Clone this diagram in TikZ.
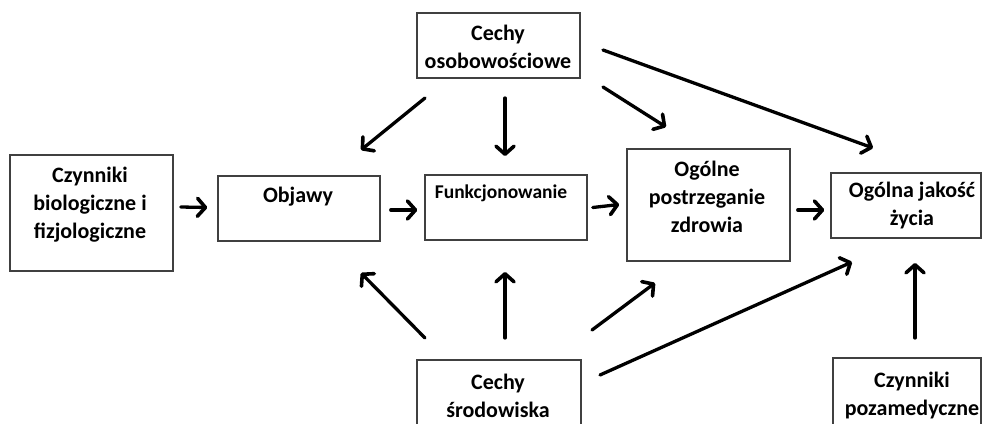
\documentclass[tikz,border=0pt]{standalone}
\usepackage{fontspec}
\setmainfont{Carlito}
\usetikzlibrary{positioning,arrows.meta}

\begin{document}
\begin{tikzpicture}[x=1pt,y=-1pt,
    boxnode/.style={rectangle, draw=black!75, line width=1.5pt, inner sep=0pt},
    txtnode/.style={inner sep=0pt, align=center, font=\fontsize{22}{28}\selectfont\bfseries},
    smalltxt/.style={inner sep=0pt, align=center, font=\fontsize{19.5}{24}\selectfont\bfseries},
    arr/.style={line width=3.3pt, line cap=round, -{Straight Barb[length=8pt,width=18pt,line width=3.6pt,round]}}]

        \clip (0,0) rectangle (984,423);

        % boxes
        \node[boxnode, minimum width=163pt, minimum height=65pt] (oso) at (498.5,45.5) {};
        \node[boxnode, minimum width=163pt, minimum height=116pt] (bio) at (91.5,213) {};
        \node[boxnode, minimum width=162pt, minimum height=65pt] (obj) at (299,208.5) {};
        \node[boxnode, minimum width=162pt, minimum height=65pt] (fun) at (506,207.5) {};
        \node[boxnode, minimum width=163pt, minimum height=112pt] (ogp) at (708.5,205) {};
        \node[boxnode, minimum width=150pt, minimum height=65pt] (jak) at (906,205.5) {};
        \node[boxnode, minimum width=164pt, minimum height=90pt] (sro) at (499,405) {};
        \node[boxnode, minimum width=148pt, minimum height=90pt] (poz) at (907,403) {};

        % texts
        \node[txtnode] (oso-t) at (498,47) {Cechy\\osobowościowe};
        \node[txtnode] (bio-t) at (90,205) {Czynniki\\biologiczne i\\fizjologiczne};
        \node[txtnode] (obj-t) at (298,197) {Objawy};
        \node[smalltxt] (fun-t) at (501,193) {Funkcjonowanie};
        \node[txtnode] (ogp-t) at (707,197) {Ogólne\\postrzeganie\\zdrowia};
        \node[txtnode] (jak-t) at (912,206) {Ogólna jakość\\życia};
        \node[txtnode] (sro-t) at (498,396) {Cechy\\środowiska};
        \node[txtnode] (poz-t) at (912,396) {Czynniki\\pozamedyczne};

        % free arrow ends
        \coordinate (oso-a) at (425,98);   \coordinate (obj-a) at (361,150);
        \coordinate (oso-b) at (505,98);   \coordinate (fun-a) at (505,156);
        \coordinate (oso-c) at (603,87);   \coordinate (ogp-a) at (666,127);
        \coordinate (oso-d) at (603,50);   \coordinate (jak-a) at (873,148);
        \coordinate (sro-a) at (425,338);  \coordinate (obj-b) at (361,273);
        \coordinate (sro-b) at (505,338);  \coordinate (fun-b) at (505,272);
        \coordinate (sro-c) at (592,330);  \coordinate (ogp-b) at (655,283);
        \coordinate (sro-d) at (600,375);  \coordinate (jak-b) at (852,262);
        \coordinate (poz-a) at (915,338);  \coordinate (jak-c) at (915,263);

        % main chain
        \draw[arr] ([xshift=7pt,yshift=6pt]bio.east) -- ([xshift=-10pt,yshift=1pt]obj.west);
        \draw[arr] ([xshift=10pt,yshift=-1.5pt]obj.east) -- ([xshift=-7pt,yshift=-2.5pt]fun.west);
        \draw[arr] ([xshift=5pt]fun.east) -- ([xshift=-7pt,yshift=0.5pt]ogp.west);
        \draw[arr] ([xshift=7pt,yshift=-5pt]ogp.east) -- ([xshift=-6pt,yshift=-4.5pt]jak.west);

        % from Cechy osobowosciowe
        \draw[arr] (oso-a) -- (obj-a);
        \draw[arr] (oso-b) -- (fun-a);
        \draw[arr] (oso-c) -- (ogp-a);
        \draw[arr] (oso-d) -- (jak-a);

        % from Cechy srodowiska
        \draw[arr] (sro-a) -- (obj-b);
        \draw[arr] (sro-b) -- (fun-b);
        \draw[arr] (sro-c) -- (ogp-b);
        \draw[arr] (sro-d) -- (jak-b);
        \draw[arr] (poz-a) -- (jak-c);

\end{tikzpicture}
\end{document}
